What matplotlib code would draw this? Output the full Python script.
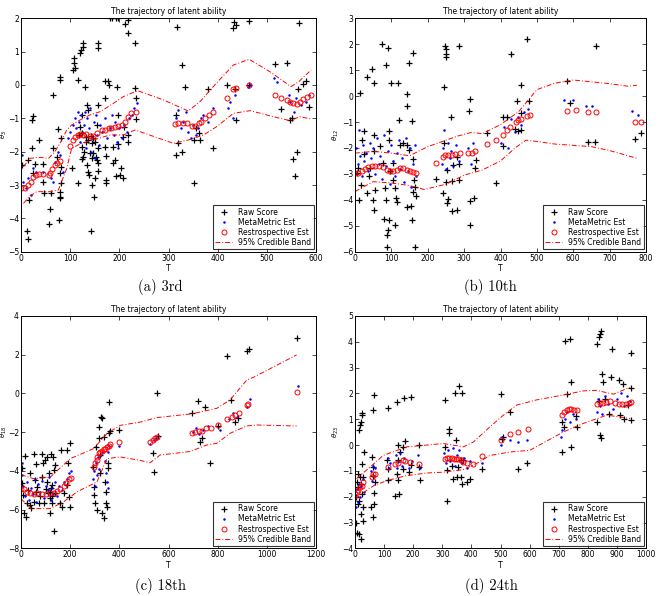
import matplotlib
matplotlib.use("Agg")
import matplotlib.pyplot as plt
from matplotlib.lines import Line2D

# ---------------- panel (a) 3rd ----------------
raw_a = [
    (1, -2.4), (13, -4.38), (15, -4.63), (17, -3.45), (15, -2.25), (22, -1.05), (25, -0.93), (23, -1.88),
    (28, -2.37), (24, -2.65), (37, -1.65), (45, -2.37), (45, -2.9), (47, -3.23), (57, -4.17), (59, -3.72),
    (60, -3.23), (66, -1.88), (66, -0.3), (73, -2.17), (76, -1.33), (79, 0.25), (79, 0.15), (79, -3.2),
    (79, -3.35), (79, -3.4), (78, -4.05), (81, -1.58), (80, -2.65), (81, -2.93), (82, -2.45), (103, -2.5),
    (106, 0.45), (108, 0.65), (108, 0.8), (110, 0.5), (115, -2.95), (115, 0.15), (120, 0.95), (122, 1.05),
    (126, 1.15), (127, 1.25), (130, -0.07), (120, -1.25), (123, -0.9), (124, -1.85), (124, -2.23), (128, -2.0),
    (132, -1.7), (135, -0.6), (137, -0.75), (137, -1.65), (137, -2.6), (139, -2.7), (142, -1.53), (144, -1.75),
    (144, -2.2), (145, -3.0), (142, -4.37), (149, -3.35), (150, -2.8), (153, -2.15), (154, -2.25), (156, 1.27),
    (157, 1.1), (156, -0.6), (156, -1.9), (157, -2.35), (157, -2.57), (140, -2.05), (118, -1.5), (125, -1.45),
    (133, -1.55), (146, -1.6), (151, -1.7), (127, -2.15), (134, -2.4), (147, -2.05), (155, -1.2),
    (170, -0.38), (170, 0.13), (176, 0.13), (178, 0.0), (171, -1.85), (173, -2.13), (173, -2.85), (173, -2.95),
    (180, 2.0), (186, 2.0), (193, 2.0), (198, 2.0), (188, -1.85), (188, -2.33), (191, -2.25), (193, -2.73),
    (195, -0.05), (198, -0.9), (198, -1.78), (201, -2.7), (203, -2.5), (207, -2.8), (208, -1.55), (209, -1.25),
    (212, 1.82), (218, 1.95), (218, 1.55), (218, -1.5), (218, -1.7), (232, 1.27), (232, -0.1), (234, -0.4),
    (234, -1.03), (315, -2.1), (315, -0.9), (318, 1.75), (319, -1.75), (328, -2.0), (327, 0.6), (334, -0.07),
    (351, -2.93), (351, -1.65), (356, -1.3), (361, -1.45), (364, -1.65), (381, -0.13), (390, -1.9), (418, 0.0),
    (432, 1.7), (434, 1.9), (437, 1.8), (435, -0.13), (437, -1.05), (464, 1.93), (464, 0.0), (517, 0.63),
    (528, -0.73), (541, 0.67), (547, -1.05), (551, -1.0), (554, -2.23), (557, -2.73), (561, -2.0), (563, -0.13),
    (565, 1.87), (573, 0.03), (580, 0.12), (586, -0.67),
]
meta_a = [
    (2, -2.1), (5, -2.9), (10, -3.1), (15, -2.8), (20, -3.3), (25, -2.5), (30, -2.6), (45, -2.6), (60, -2.8),
    (65, -2.9), (70, -2.3), (75, -2.0), (80, -2.1), (85, -2.6), (95, -1.6), (100, -1.4), (105, -1.2), (110, -1.0),
    (112, -1.3), (115, -0.8), (118, -1.1), (120, -1.7), (122, -0.9), (125, -1.4), (128, -1.2), (130, -0.8),
    (132, -1.9), (135, -1.0), (138, -1.3), (140, -0.7), (142, -2.0), (145, -1.6), (148, -1.1), (150, -2.2),
    (152, -0.9), (155, -1.5), (158, -1.8), (160, -1.2), (165, -1.4), (170, -1.0), (175, -1.6), (180, -1.3),
    (185, -0.9), (190, -1.5), (192, -1.1), (195, -1.7), (198, -1.9), (200, -1.3), (205, -1.6), (210, -1.2),
    (215, -1.4), (220, -1.0), (225, -0.9), (230, -0.7), (235, -0.55), (315, -1.0), (320, -0.75), (325, -1.3),
    (330, -1.1), (335, -0.8), (340, -1.4), (345, -1.6), (350, -1.2), (355, -1.5), (360, -1.3), (365, -1.0),
    (370, -0.9), (380, -1.1), (390, -0.7), (420, -0.7), (425, -0.5), (432, -1.0), (435, -0.3), (462, -0.05),
    (465, 0.0), (515, 0.2), (520, 0.1), (545, -0.3), (548, -0.5), (555, -0.8), (560, -0.4), (570, -0.6),
    (580, -0.5), (585, -0.3),
]
retro_a = [
    (0, -3.08), (8, -3.08), (15, -3.0), (20, -2.9), (25, -2.75), (30, -2.7), (37, -2.67), (45, -2.67),
    (56, -2.7), (59, -2.65), (64, -2.53), (69, -2.4), (74, -2.35), (79, -2.28), (100, -1.83), (106, -1.65),
    (110, -1.55), (115, -1.5), (120, -1.47), (127, -1.5), (133, -1.48), (140, -1.52), (147, -1.53), (154, -1.45),
    (164, -1.35), (171, -1.35), (178, -1.3), (184, -1.28), (191, -1.25), (198, -1.23), (205, -1.2), (212, -1.1),
    (217, -0.97), (223, -0.85), (234, -0.8), (313, -1.17), (320, -1.15), (329, -1.13), (337, -1.15),
    (347, -1.23), (353, -1.23), (361, -1.15), (367, -1.1), (374, -1.0), (383, -0.9), (390, -0.81), (418, -0.4),
    (432, -0.13), (437, -0.1), (464, 0.0), (517, -0.3), (528, -0.4), (541, -0.45), (548, -0.5), (554, -0.55),
    (561, -0.57), (567, -0.5), (574, -0.42), (581, -0.35), (589, -0.3),
]
band_a_hi = [
    (5, -2.45), (18, -2.2), (39, -2.17), (56, -2.2), (69, -2.0), (83, -1.65), (93, -1.35), (103, -1.2),
    (120, -1.05), (140, -0.9), (161, -0.8), (188, -0.55), (208, -0.35), (237, -0.17), (290, -0.45),
    (340, -0.78), (364, -0.5), (400, 0.1), (432, 0.6), (464, 0.77), (506, 0.4), (549, -0.05), (565, 0.1),
    (590, 0.45),
]
band_a_lo = [
    (5, -3.55), (18, -3.33), (32, -3.2), (59, -3.2), (76, -3.15), (93, -2.5), (103, -1.9), (120, -1.77),
    (147, -1.65), (181, -1.5), (208, -1.5), (232, -1.35), (310, -1.75), (340, -1.65), (371, -1.5),
    (398, -1.25), (432, -0.85), (466, -0.77), (513, -0.95), (547, -1.07), (567, -0.95), (590, -1.02),
]

# ---------------- panel (b) 10th ----------------
raw_b = [
    (5, -2.97), (9, -2.78), (14, 0.12), (12, -4.0), (16, -3.42), (20, -1.68), (25, -1.36), (26, -2.22),
    (32, 0.74), (32, -3.72), (39, -3.1), (41, -2.78), (46, 1.03), (49, -4.0), (52, 0.51), (52, -1.49),
    (53, -2.13), (55, -3.61), (53, -4.41), (69, -1.91), (73, 2.0), (78, -2.59), (82, -3.55), (80, -4.74),
    (85, 1.18), (85, -4.0), (89, -5.35), (89, -5.8), (92, 1.86), (94, -1.36), (94, -1.68), (92, -5.15),
    (94, -4.78), (96, -2.9), (99, 0.51), (104, -3.23), (105, -2.59), (110, -3.55), (113, -3.94), (110, -4.97),
    (115, -4.07), (117, 0.51), (122, -0.91), (124, -1.87), (131, -1.81), (142, 0.1), (142, -0.39), (144, -1.87),
    (144, -4.28), (149, 1.29), (149, -2.07), (153, -4.23), (156, -4.78), (156, -0.97), (159, 1.67), (159, -3.69),
    (160, -2.43), (163, -3.23), (165, -5.8), (168, -3.87), (165, -3.49), (223, -3.2), (243, -3.74), (245, 0.36),
    (247, 1.93), (250, 1.8), (250, 1.61), (250, 1.52), (245, -1.81), (252, -2.84), (250, -3.33), (252, -4.13),
    (257, -3.97), (263, -0.8), (266, -4.45), (266, -3.29), (270, -2.65), (280, -2.33), (280, -4.41), (287, 1.93),
    (286, -2.61), (287, -3.23), (316, -0.13), (314, -0.58), (316, -4.03), (316, -4.97), (327, -3.94),
    (330, -2.78), (333, -2.45), (364, -1.42), (388, -3.36), (406, -1.94), (406, -0.82), (417, -0.82),
    (428, 1.63), (440, -1.25), (444, -0.2), (449, -1.36), (455, -1.3), (455, -0.65), (455, 0.41), (472, 2.21),
    (479, -0.2), (582, 0.58), (591, -0.26), (641, -1.77), (660, -1.77), (662, 1.95), (770, -1.64), (785, -1.42),
]
meta_b = [
    (3, -2.0), (8, -2.6), (12, -1.3), (15, -2.3), (18, -3.1), (22, -1.9), (26, -2.5), (30, -2.2), (35, -2.9),
    (40, -1.8), (45, -2.4), (50, -2.0), (55, -3.0), (60, -1.6), (65, -2.6), (70, -2.3), (75, -3.2), (80, -1.5),
    (85, -2.7), (90, -2.1), (95, -3.4), (100, -1.9), (105, -2.5), (110, -3.1), (115, -2.2), (120, -1.7),
    (125, -2.8), (130, -2.4), (135, -3.3), (140, -1.6), (145, -2.9), (150, -2.0), (155, -3.5), (160, -2.6),
    (165, -1.9), (168, -3.1), (240, -2.6), (243, -2.0), (246, -1.3), (250, -2.8), (255, -1.8), (260, -2.4),
    (265, -2.1), (270, -2.7), (278, -1.9), (285, -2.5), (310, -2.0), (318, -2.6), (325, -1.8), (400, -1.8),
    (410, -1.2), (420, -2.0), (430, -0.9), (440, -1.4), (448, -0.8), (455, -1.1), (465, -0.6), (475, -0.5),
    (575, -0.15), (598, -0.15), (635, -0.4), (652, -0.4), (762, -0.58), (778, -0.72),
]
retro_b = [
    (0, -2.97), (9, -2.95), (18, -2.88), (27, -2.82), (37, -2.75), (46, -2.71), (55, -2.71), (67, -2.71),
    (78, -2.75), (87, -2.84), (96, -2.87), (105, -2.88), (115, -2.84), (124, -2.79), (133, -2.78), (142, -2.84),
    (151, -2.9), (160, -2.94), (168, -2.97), (223, -2.58), (241, -2.35), (247, -2.26), (257, -2.26),
    (266, -2.26), (275, -2.23), (289, -2.2), (312, -2.2), (321, -2.2), (330, -2.13), (362, -1.83), (388, -1.68),
    (406, -1.49), (419, -1.32), (426, -1.2), (443, -1.01), (449, -0.93), (455, -0.87), (472, -0.75),
    (481, -0.71), (582, -0.56), (608, -0.52), (641, -0.61), (662, -0.61), (770, -1.01), (785, -0.98),
]
band_b_hi = [
    (0, -2.2), (50, -2.13), (100, -2.2), (150, -2.3), (200, -1.95), (280, -1.55), (320, -1.4), (350, -1.45),
    (400, -1.1), (450, -0.6), (500, 0.25), (550, 0.5), (600, 0.62), (650, 0.55), (700, 0.48), (750, 0.38),
    (775, 0.42),
]
band_b_lo = [
    (0, -3.68), (50, -3.3), (100, -3.35), (150, -3.45), (190, -3.6), (250, -3.4), (300, -3.05), (350, -2.85),
    (400, -2.5), (440, -2.0), (470, -1.7), (500, -1.75), (550, -1.85), (600, -1.9), (650, -1.95), (700, -2.1),
    (775, -2.4),
]

# ---------------- panel (c) 18th ----------------
raw_c = [
    (4, -3.87), (4, -4.61), (8, -5.25), (11, -6.2), (18, -3.23), (22, -6.36), (24, -5.68), (27, -4.99),
    (35, -4.13), (35, -5.77), (41, -5.93), (51, -3.13), (51, -5.6), (58, -4.47), (62, -3.64), (62, -5.07),
    (65, -4.82), (72, -5.68), (85, -3.13), (85, -4.3), (89, -3.61), (92, -5.68), (99, -3.44), (106, -3.27),
    (106, -4.56), (108, -5.16), (112, -4.13), (116, -5.42), (116, -6.2), (119, -5.07), (122, -3.15),
    (126, -4.73), (126, -5.68), (130, -3.27), (133, -7.09), (133, -3.95), (137, -3.7), (139, -5.16),
    (160, -5.68), (163, -2.92), (167, -5.85), (173, -5.16), (187, -4.73), (187, -2.92), (191, -3.58),
    (200, -2.58), (200, -5.85), (194, -5.33), (120, -4.9), (128, -5.3), (100, -4.95), (78, -5.3),
    (292, -3.78), (295, -4.82), (298, -5.25), (302, -5.68), (306, -2.75), (309, -6.02), (316, -2.32),
    (319, -1.72), (322, -3.18), (322, -4.13), (326, -1.2), (329, -1.29), (336, -2.23), (329, -6.2), (339, -6.45),
    (342, -4.56), (347, -5.07), (347, -5.68), (349, -5.85), (352, -3.61), (352, -3.87), (356, -0.42),
    (356, -2.06), (360, -1.94), (397, -1.89), (559, -2.18), (536, -3.06), (542, -4.04), (552, 0.0),
    (695, -1.0), (718, -0.39), (729, -2.49), (736, -2.32), (749, -0.69), (769, -3.61), (803, -1.68),
    (837, 1.93), (854, -0.34), (871, -1.46), (881, -1.29), (921, 2.21), (929, 2.28), (1121, 2.85),
]
meta_c = [
    (2, -3.6), (5, -4.2), (10, -4.8), (18, -5.3), (25, -4.6), (32, -5.5), (40, -4.9), (48, -5.2), (55, -4.4),
    (62, -5.6), (70, -4.7), (78, -5.1), (85, -4.5), (92, -5.4), (100, -4.8), (108, -5.0), (115, -4.3),
    (120, -5.5), (125, -4.9), (132, -5.2), (140, -4.6), (148, -5.3), (155, -4.8), (165, -5.0), (175, -4.6),
    (185, -4.4), (195, -4.1), (205, -4.0), (292, -4.4), (296, -4.0), (300, -4.8), (304, -3.6), (308, -4.2),
    (312, -3.3), (318, -3.9), (325, -3.2), (332, -3.0), (340, -3.5), (345, -4.1), (350, -4.6), (352, -4.9),
    (355, -3.0), (358, -2.7), (400, -2.7), (525, -2.6), (540, -2.4), (550, -2.3), (700, -2.0), (712, -1.8),
    (725, -2.1), (740, -1.9), (760, -1.7), (810, -1.9), (845, -1.3), (862, -1.0), (880, -1.2), (920, -0.7),
    (932, -0.3), (1125, 0.4),
]
retro_c = [
    (0, -4.95), (11, -4.95), (24, -5.07), (38, -5.16), (51, -5.2), (65, -5.16), (85, -5.21), (103, -5.2),
    (119, -5.16), (133, -5.13), (146, -5.04), (160, -4.94), (173, -4.78), (184, -4.61), (194, -4.44),
    (203, -4.35), (298, -3.78), (302, -3.61), (309, -3.44), (311, -3.27), (317, -3.09), (322, -3.0),
    (329, -2.96), (336, -2.89), (342, -2.87), (349, -2.78), (356, -2.71), (363, -2.61), (397, -2.49),
    (523, -2.49), (536, -2.4), (543, -2.32), (552, -2.23), (695, -2.06), (708, -1.97), (722, -1.92),
    (736, -1.92), (753, -1.8), (772, -1.8), (803, -1.61), (837, -1.34), (857, -1.2), (871, -1.11),
    (885, -0.99), (918, -0.6), (925, -0.55), (1121, 0.08),
]
band_c_hi = [
    (0, -4.2), (51, -4.4), (119, -4.32), (200, -3.37), (295, -2.85), (349, -2.08), (403, -1.65), (485, -1.48),
    (552, -1.25), (695, -1.05), (796, -0.77), (850, -0.34), (918, 0.69), (945, 0.83), (1121, 1.99),
]
band_c_lo = [
    (0, -5.44), (41, -5.95), (119, -5.95), (173, -5.6), (227, -5.09), (309, -4.57), (349, -3.37), (403, -3.28),
    (485, -3.46), (525, -3.58), (566, -3.18), (688, -3.0), (756, -2.66), (796, -2.58), (850, -2.06),
    (918, -1.68), (959, -1.63), (1121, -1.68),
]

# ---------------- panel (d) 24th ----------------
raw_d = [
    (3, -2.02), (3, -3.0), (6, -1.44), (8, -3.39), (11, -2.28), (11, -1.63), (15, 0.58), (15, -3.45),
    (17, -1.24), (17, 0.77), (19, 0.9), (19, -2.67), (23, -1.89), (23, 1.16), (23, -0.72), (25, 1.23),
    (26, -2.41), (29, -1.24), (29, -2.93), (32, -0.27), (19, -3.65), (15, -2.15), (11, -1.11), (21, -1.5),
    (57, -0.46), (61, 1.36), (61, -2.8), (63, -0.85), (66, 1.95), (69, -1.44), (66, -2.28), (65, -1.87),
    (63, -1.18), (54, -2.41), (115, -0.92), (115, 1.42), (115, -1.37), (109, -0.59), (143, 1.68), (143, -1.11),
    (137, -1.96), (149, -0.59), (147, -0.01), (149, -1.37), (152, -1.89), (155, -0.27), (164, -0.07),
    (166, -0.92), (168, 1.81), (172, 0.16), (187, -1.05), (192, 1.88), (191, -0.79), (221, -0.01),
    (223, -1.37), (221, -0.85), (309, 1.75), (309, -0.07), (315, -0.98), (317, -2.15), (324, 0.64),
    (324, 0.45), (332, -0.83), (338, -1.31), (344, 2.01), (347, 0.19), (349, -1.24), (355, -0.85), (359, 2.3),
    (363, -0.59), (364, -1.24), (367, 2.01), (367, -1.5), (372, -0.59), (384, -1.44), (395, -1.31),
    (435, -0.92), (501, 1.98), (504, 0.25), (510, 0.32), (533, 1.29), (561, -0.92), (592, -0.7),
    (723, 4.02), (738, 4.12), (743, 2.44), (729, 1.99), (712, 0.89), (718, 0.7), (758, 1.12), (764, 0.7),
    (712, -0.27), (743, -0.08), (832, 3.93), (838, 4.19), (842, 4.31), (846, 4.41), (850, 2.76), (853, 2.44),
    (838, 1.69), (832, 0.89), (842, 0.38), (846, 0.27), (878, 2.64), (882, 3.71), (872, 1.21), (907, 2.51),
    (922, 2.38), (910, 1.15), (926, 1.0), (947, 3.58), (947, 2.21), (947, 0.96), (938, 1.56), (860, 1.8),
]
meta_d = [
    (2, -2.4), (6, -1.7), (10, -2.2), (14, -1.5), (18, -2.0), (22, -1.6), (26, -1.3), (30, -1.8), (55, -1.0),
    (58, -1.4), (62, -0.8), (66, -1.2), (70, -0.9), (112, -0.5), (116, -0.9), (120, -0.7), (140, -0.4),
    (145, -0.9), (150, -0.6), (155, -0.3), (162, -0.8), (170, -0.5), (185, -0.9), (195, -0.6), (218, -0.4),
    (222, -0.9), (305, -0.3), (312, -0.7), (320, -0.2), (328, -0.6), (336, -0.1), (342, -0.8), (350, -0.4),
    (358, -0.2), (366, -0.7), (375, -0.5), (385, -0.9), (395, -0.6), (435, -0.7), (500, 0.0), (505, 0.3),
    (532, 0.2), (560, 0.1), (592, 0.2), (708, 0.3), (713, 0.6), (720, 1.0), (728, 1.3), (738, 0.9),
    (750, 1.2), (760, 1.0), (830, 1.3), (836, 1.8), (842, 1.5), (850, 1.2), (860, 1.9), (870, 1.6),
    (885, 1.4), (900, 1.8), (915, 2.0), (925, 1.5), (935, 1.9), (945, 1.7),
]
retro_d = [
    (0, -1.89), (6, -1.83), (11, -1.74), (17, -1.63), (23, -1.57), (29, -1.44), (57, -1.24), (63, -1.14),
    (69, -1.11), (115, -0.85), (137, -0.75), (149, -0.69), (166, -0.59), (172, -0.62), (189, -0.66),
    (221, -0.72), (309, -0.53), (317, -0.52), (324, -0.49), (332, -0.5), (340, -0.53), (347, -0.53),
    (355, -0.53), (363, -0.59), (372, -0.66), (384, -0.69), (404, -0.72), (435, -0.44), (501, 0.21),
    (533, 0.42), (561, 0.51), (596, 0.64), (712, 1.15), (718, 1.28), (727, 1.34), (735, 1.38), (743, 1.38),
    (752, 1.37), (764, 1.37), (832, 1.6), (842, 1.62), (853, 1.64), (864, 1.68), (875, 1.7), (895, 1.64),
    (907, 1.6), (918, 1.6), (930, 1.58), (941, 1.62), (947, 1.66),
]
band_d_hi = [
    (5, -1.3), (52, -0.85), (97, -0.4), (178, -0.07), (304, 0.06), (372, -0.07), (407, 0.12), (464, 0.71),
    (510, 1.16), (556, 1.55), (624, 1.75), (716, 1.94), (785, 2.1), (830, 2.12), (888, 1.97), (945, 2.24),
]
band_d_lo = [
    (2, -2.09), (32, -1.82), (66, -1.56), (112, -1.37), (178, -1.18), (250, -1.08), (304, -1.05),
    (372, -0.95), (420, -0.7), (464, -0.4), (533, -0.27), (601, -0.2), (716, 0.51), (785, 0.84),
    (865, 1.16), (945, 1.03),
]

panels = [
    dict(raw=raw_a, meta=meta_a, retro=retro_a, hi=band_a_hi, lo=band_a_lo, xlim=(0, 600), xstep=100,
         ylim=(-5, 2), ystep=1, ylabel=r"$\theta_3$", caption="(a) 3rd", ylab_x=-0.04,
         rect=[0.0319, 0.5777, 0.4477, 0.3916], cap_xy=(0.243, 0.505)),
    dict(raw=raw_b, meta=meta_b, retro=retro_b, hi=band_b_hi, lo=band_b_lo, xlim=(0, 800), xstep=100,
         ylim=(-6, 3), ystep=1, ylabel=r"$\theta_{12}$", caption="(b) 10th", ylab_x=-0.047,
         rect=[0.5387, 0.5777, 0.4416, 0.3916], cap_xy=(0.744, 0.505)),
    dict(raw=raw_c, meta=meta_c, retro=retro_c, hi=band_c_hi, lo=band_c_lo, xlim=(0, 1200), xstep=200,
         ylim=(-8, 4), ystep=2, ylabel=r"$\theta_{18}$", caption="(c) 18th", ylab_x=-0.04,
         rect=[0.0319, 0.0800, 0.4477, 0.3898], cap_xy=(0.243, 0.004)),
    dict(raw=raw_d, meta=meta_d, retro=retro_d, hi=band_d_hi, lo=band_d_lo, xlim=(0, 1000), xstep=100,
         ylim=(-4, 5), ystep=1, ylabel=r"$\theta_{23}$", caption="(d) 24th", ylab_x=-0.047,
         rect=[0.5387, 0.0800, 0.4416, 0.3898], cap_xy=(0.746, 0.004)),
]


def _xy(pairs):
    return [p[0] for p in pairs], [p[1] for p in pairs]


fig = plt.figure(figsize=(6.59, 5.96), dpi=100)
small = 5.5

for p in panels:
    ax = fig.add_axes(p["rect"])
    x, y = _xy(p["raw"])
    ax.plot(x, y, "+", color="black", markersize=4.5, mew=0.9, linestyle="none")
    x, y = _xy(p["meta"])
    ax.plot(x, y, ".", color="blue", markersize=1.6, linestyle="none")
    x, y = _xy(p["retro"])
    ax.plot(x, y, "o", mfc="none", mec="red", markersize=3.6, mew=0.7, linestyle="none")
    for band in (p["hi"], p["lo"]):
        x, y = _xy(band)
        ax.plot(x, y, "-.", color="red", linewidth=0.7, dashes=(5, 2, 1, 2))

    x0, x1 = p["xlim"]
    y0, y1 = p["ylim"]
    ax.set_xlim(x0, x1)
    ax.set_ylim(y0, y1)
    ax.set_xticks(range(x0, x1 + 1, p["xstep"]))
    ax.set_yticks(range(y0, y1 + 1, p["ystep"]))
    ax.tick_params(direction="in", top=True, right=True, labelsize=small, length=3, width=0.5, pad=1.5)
    for s in ax.spines.values():
        s.set_linewidth(0.7)
    ax.set_xlabel("T", fontsize=small, labelpad=1)
    ax.set_ylabel(p["ylabel"], fontsize=5)
    ax.yaxis.set_label_coords(p["ylab_x"], 0.5)
    ax.set_title("The trajectory of latent ability", fontsize=small, pad=3)

    handles = [
        Line2D([], [], marker="+", color="black", linestyle="none", markersize=4.5, mew=0.9),
        Line2D([], [], marker=".", color="blue", linestyle="none", markersize=1.6),
        Line2D([], [], marker="o", mfc="none", mec="red", linestyle="none", markersize=3.6, mew=0.7),
        Line2D([], [], color="red", linestyle="-.", linewidth=0.7, dashes=(5, 2, 1, 2)),
    ]
    labels = ["Raw Score", "MetaMetric Est", "Restrospective Est", "95% Credible Band"]
    leg = ax.legend(handles, labels, loc="lower right", fontsize=small, frameon=True, fancybox=False,
                    borderaxespad=0.3, handlelength=2.2, handletextpad=0.8, labelspacing=0.15,
                    borderpad=0.3, edgecolor="black")
    leg.get_frame().set_linewidth(0.8)

    fig.text(p["cap_xy"][0], p["cap_xy"][1], p["caption"], ha="center", va="bottom",
             fontsize=10.5, family="cmr10")

fig.savefig("out.png", dpi=100)
